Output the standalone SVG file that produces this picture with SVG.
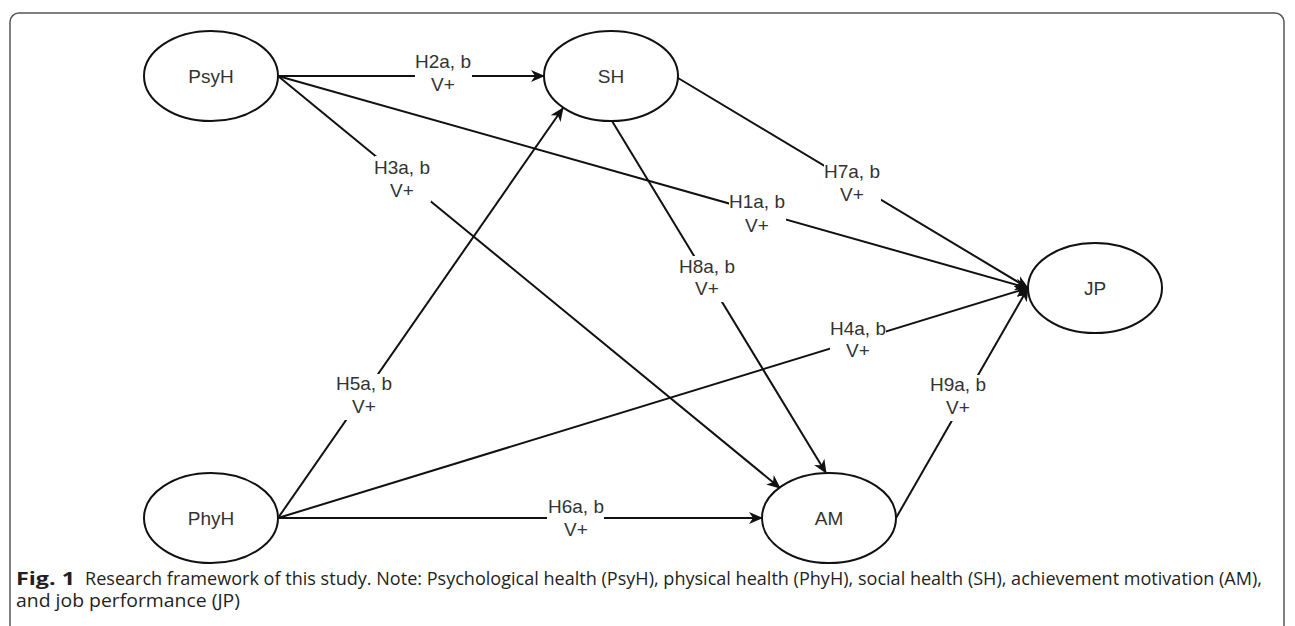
<svg xmlns="http://www.w3.org/2000/svg" width="1295" height="626" viewBox="0 0 1295 626">
<style>
.node ellipse{fill:#fff;stroke:#111;stroke-width:2}
.node text{font-family:"Liberation Sans",Arial,sans-serif;font-size:19px;fill:#333;text-anchor:middle}
.edge{stroke:#111;stroke-width:2;fill:none;marker-end:url(#arr)}
.lbl rect{fill:#fff}
.lbl text{font-family:"Liberation Sans",Arial,sans-serif;font-size:19px;fill:#333;text-anchor:middle}
.cap{font-family:"Open Sans","Liberation Sans",sans-serif;font-size:18px;fill:#231f20}
</style>
<defs>
<marker id="arr" viewBox="0 0 14 12" refX="13" refY="6" markerWidth="14" markerHeight="12" markerUnits="userSpaceOnUse" orient="auto">
<path d="M0,0 L14,6 L0,12 L4,6 z" fill="#111"/>
</marker>
</defs>
<rect x="0" y="0" width="1295" height="626" fill="#fff"/>
<rect x="10" y="13" width="1274" height="700" rx="9" ry="9" fill="none" stroke="#555" stroke-width="1.5"/>

<g id="connectors">
<line class="edge" x1="278" y1="76" x2="544" y2="76"/>
<line class="edge" x1="278" y1="76" x2="1028" y2="288"/>
<line class="edge" x1="278" y1="76" x2="780" y2="488"/>
<line class="edge" x1="678" y1="78" x2="1028" y2="288"/>
<line class="edge" x1="612" y1="121" x2="826" y2="473"/>
<line class="edge" x1="278" y1="518" x2="563" y2="108"/>
<line class="edge" x1="278" y1="518" x2="1028" y2="288"/>
<line class="edge" x1="278" y1="518" x2="762" y2="518"/>
<line class="edge" x1="896" y1="518" x2="1028" y2="288"/>
<g class="lbl">
<rect x="415" y="51" width="57" height="46"/><text x="443" y="68">H2a, b<tspan x="443" y="91">V+</tspan></text>
<rect x="375" y="156" width="56" height="46"/><text x="402" y="174">H3a, b<tspan x="402" y="197">V+</tspan></text>
<rect x="729" y="192" width="57" height="46"/><text x="757" y="208">H1a, b<tspan x="757" y="232">V+</tspan></text>
<rect x="824" y="162" width="57" height="46"/><text x="852" y="178">H7a, b<tspan x="852" y="201">V+</tspan></text>
<rect x="679" y="256" width="57" height="46"/><text x="707" y="273">H8a, b<tspan x="707" y="295">V+</tspan></text>
<rect x="830" y="320" width="56" height="44"/><text x="858" y="335">H4a, b<tspan x="858" y="357">V+</tspan></text>
<rect x="336" y="374" width="57" height="46"/><text x="364" y="390">H5a, b<tspan x="364" y="413">V+</tspan></text>
<rect x="930" y="375" width="57" height="46"/><text x="958" y="391">H9a, b<tspan x="958" y="414">V+</tspan></text>
<rect x="547" y="497" width="57" height="46"/><text x="576" y="513">H6a, b<tspan x="576" y="536">V+</tspan></text>
</g>
</g>

<g id="PsyH" class="node"><ellipse cx="211" cy="76" rx="67" ry="45"/><text x="211" y="83">PsyH</text></g>
<g id="SH" class="node"><ellipse cx="611" cy="76" rx="67" ry="45"/><text x="611" y="83">SH</text></g>
<g id="JP" class="node"><ellipse cx="1095" cy="288" rx="67" ry="45"/><text x="1095" y="295">JP</text></g>
<g id="PhyH" class="node"><ellipse cx="211" cy="518" rx="67" ry="45"/><text x="211" y="525">PhyH</text></g>
<g id="AM" class="node"><ellipse cx="829" cy="518" rx="67" ry="45"/><text x="829" y="525">AM</text></g>

<g id="caption">
<text class="cap" x="16" y="585" font-weight="bold" textLength="59" lengthAdjust="spacingAndGlyphs">Fig. 1</text>
<text class="cap" x="85" y="585" textLength="1177" lengthAdjust="spacingAndGlyphs">Research framework of this study. Note: Psychological health (PsyH), physical health (PhyH), social health (SH), achievement motivation (AM),</text>
<text class="cap" x="16" y="607" textLength="224" lengthAdjust="spacingAndGlyphs">and job performance (JP)</text>
</g>
</svg>
